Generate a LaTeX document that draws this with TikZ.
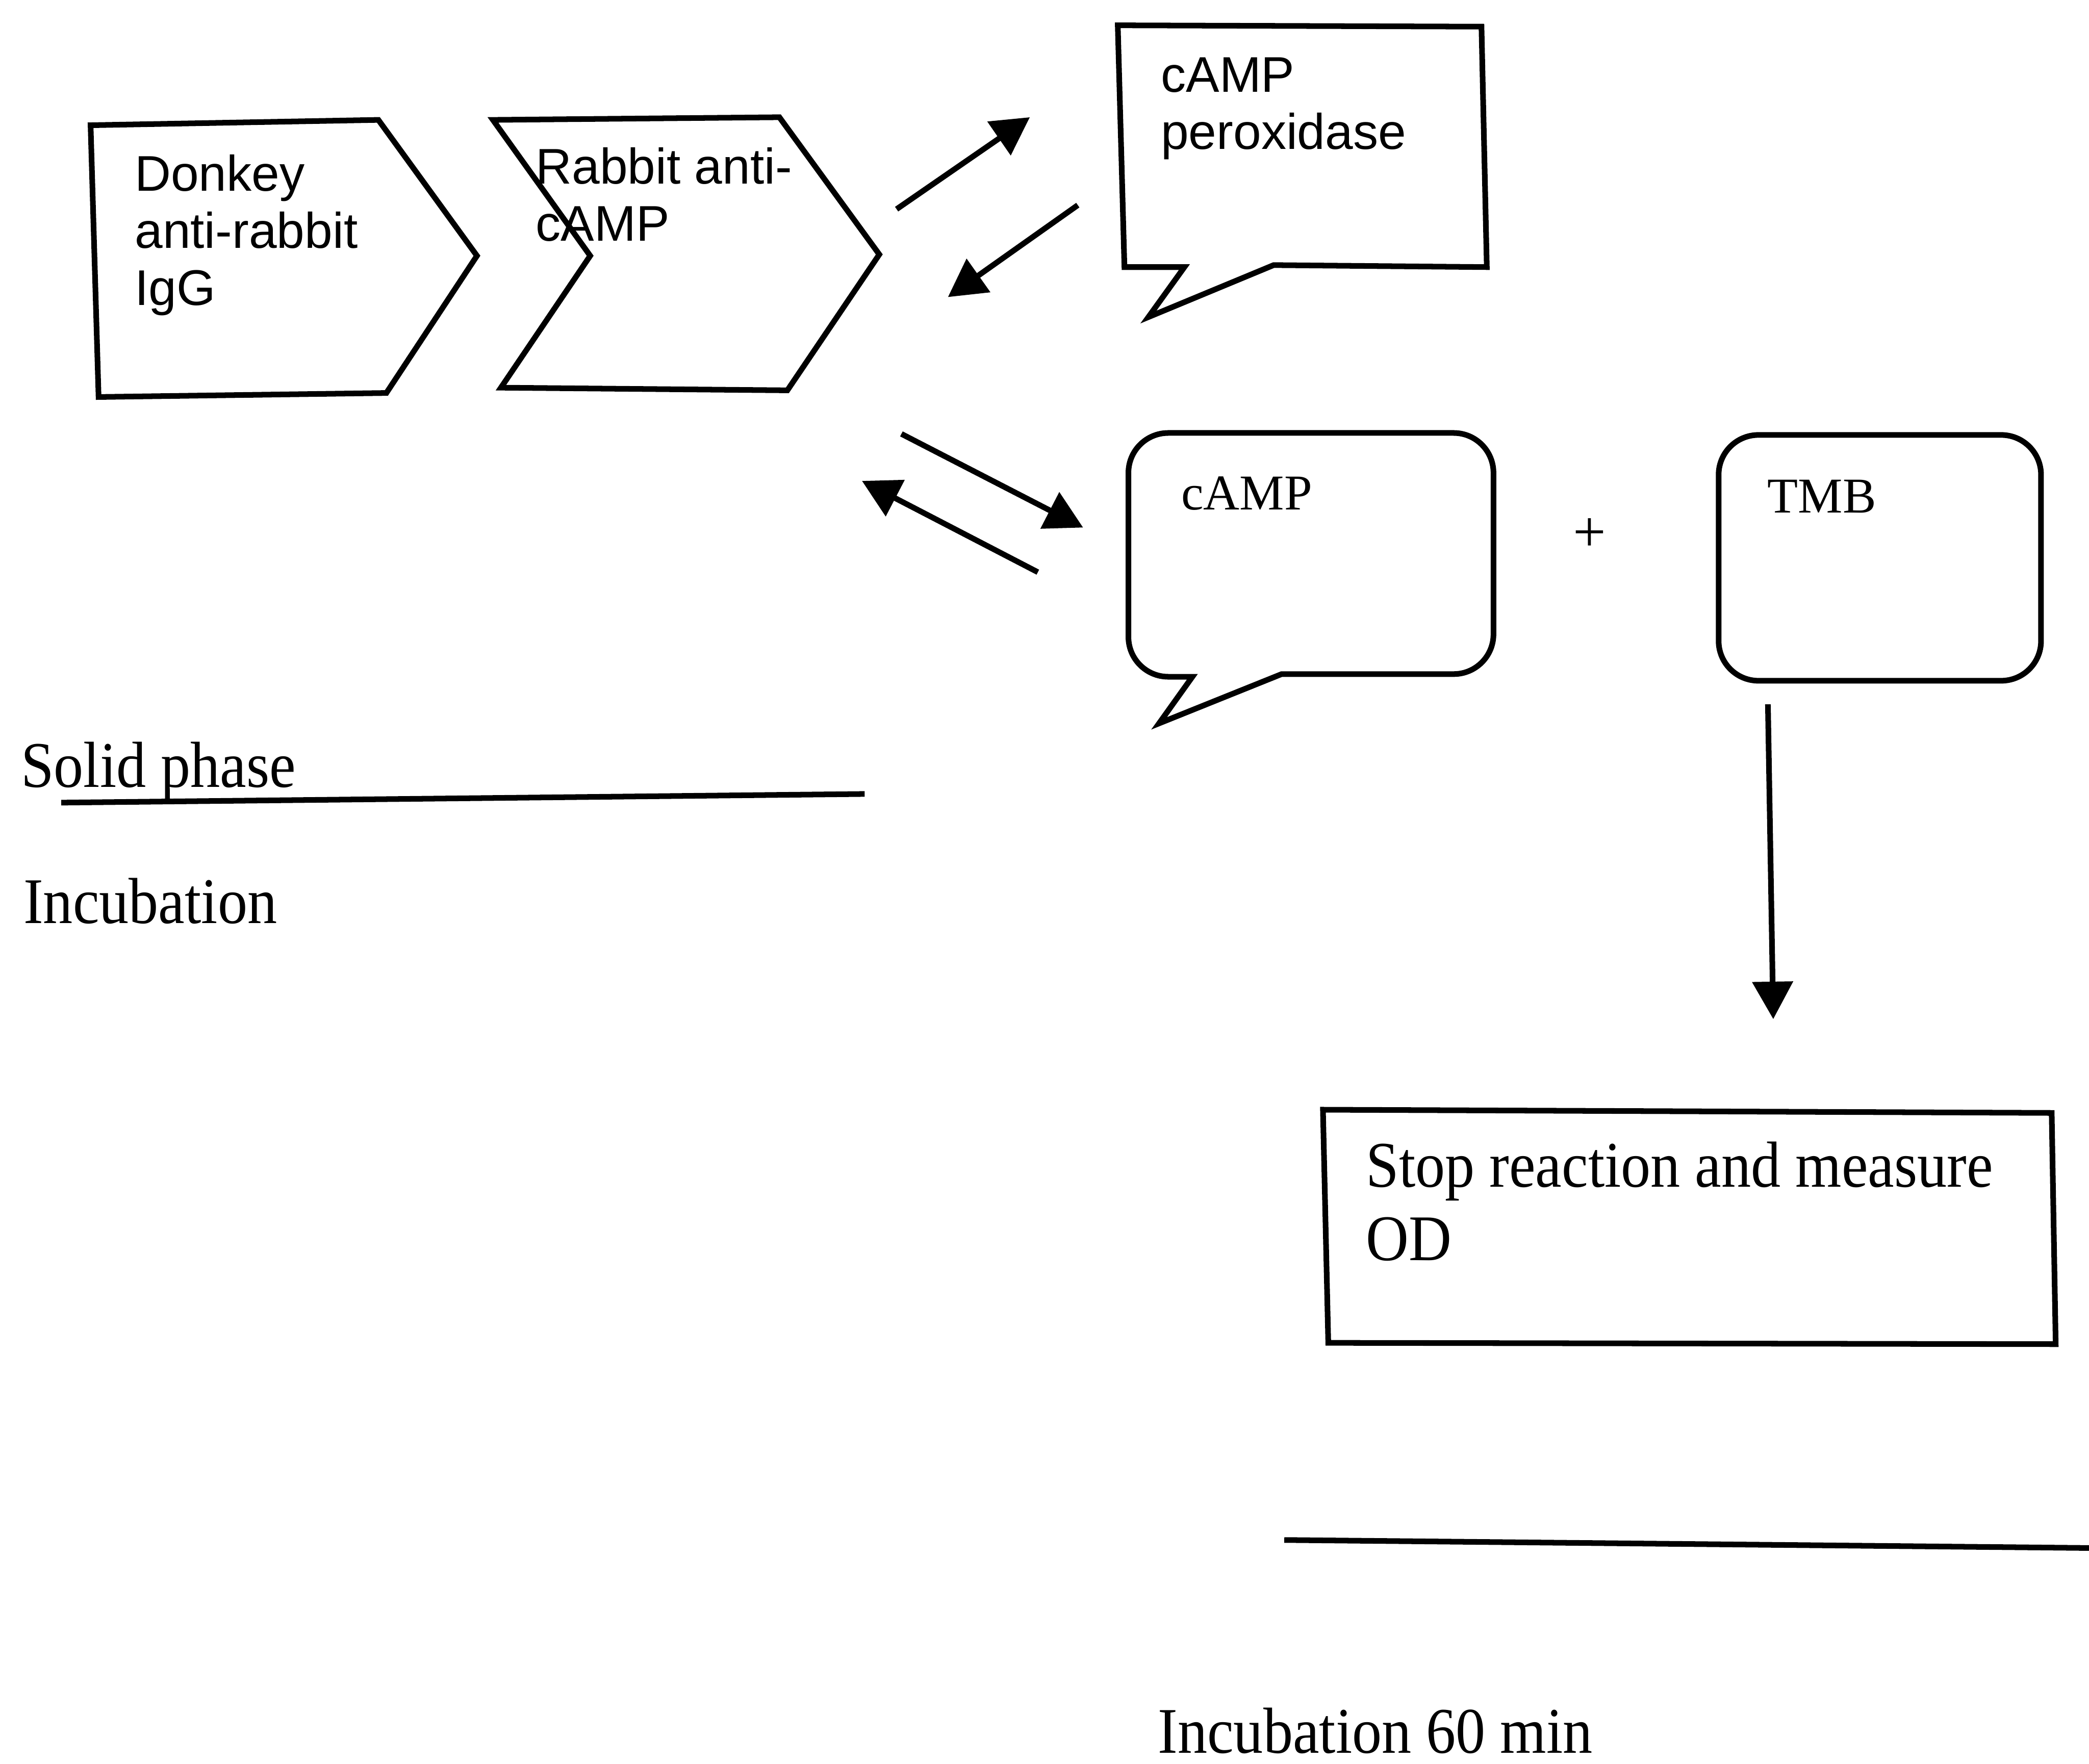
\documentclass[tikz,border=0pt]{standalone}
\usepackage{fontspec}
\setmainfont{Liberation Serif}
\newfontfamily\sansf{Liberation Sans}
\newfontfamily\serifc[FakeStretch=0.91]{Liberation Serif}
\usetikzlibrary{arrows.meta}
\begin{document}
\begin{tikzpicture}[x=0.01cm,y=-0.01cm,
  shapeline/.style={line width=1.2pt, line join=miter},
  arr/.style={line width=1.2pt, -{Triangle[length=8pt,width=8.5pt]}},
  rule/.style={line width=1.2pt},
  sanslbl/.style={font=\sansf\fontsize{10.7}{12.2}\selectfont, inner sep=0pt, anchor=base west, align=left},
  seriflbl/.style={font=\fontsize{10.7}{12.2}\selectfont, inner sep=0pt, anchor=base west},
  biglbl/.style={font=\serifc\fontsize{13.9}{15.6}\selectfont, inner sep=0pt, anchor=base west, align=left}]
\useasboundingbox (0,0) rectangle (1568,1324);

% chevrons
\draw[shapeline] (68,94) -- (284,90) -- (358,192) -- (290,295) -- (74,298) -- cycle;
\draw[shapeline] (370,90) -- (585,88) -- (660,191) -- (591,293) -- (376,291) -- (443,192) -- cycle;

% rectangular callout
\draw[shapeline] (839,19) -- (1112,20) -- (1116,200.5) -- (956,199) -- (862,238) -- (889,200.5) -- (844,200.5) -- cycle;

% rounded callout
\draw[shapeline] (962,506) [rounded corners=8.5pt] -- (1121,506) -- (1121,325) -- (847,325) -- (847,508) [sharp corners] -- (895,508) -- (870,543) -- cycle;

% TMB box
\draw[shapeline, rounded corners=8.5pt] (1290,326.5) rectangle (1532,511);

% stop box
\draw[shapeline] (993,833) -- (1540,835.4) -- (1543,1009) -- (997,1008) -- cycle;

% rules
\coordinate (r1s) at (46,602.5);
\coordinate (r1e) at (649,596);
\coordinate (r2s) at (964,1156);
\coordinate (r2e) at (1568,1162);
\draw[rule] (r1s) -- (r1e);
\draw[rule] (r2s) -- (r2e);

% arrows
\coordinate (a1s) at (673,157);
\coordinate (a1e) at (773,88);
\coordinate (a2s) at (809,154);
\coordinate (a2e) at (711.5,223);
\coordinate (a3s) at (676.6,325.7);
\coordinate (a3e) at (813,396);
\coordinate (a4s) at (779,429.5);
\coordinate (a4e) at (647,361);
\coordinate (a5s) at (1327,528.7);
\coordinate (a5e) at (1331,765);
\draw[arr] (a1s) -- (a1e);
\draw[arr] (a2s) -- (a2e);
\draw[arr] (a3s) -- (a3e);
\draw[arr] (a4s) -- (a4e);
\draw[arr] (a5s) -- (a5e);

% texts (multi-line nodes are placed at the baseline of their last line)
\node[sanslbl] (donkey) at (100.5,229) {Donkey\\anti-rabbit\\IgG};
\node[sanslbl] (rabbit) at (401.5,181) {Rabbit anti-\\cAMP};
\node[sanslbl] (perox) at (870.7,112) {cAMP\\peroxidase};
\node[seriflbl] (camp) at (886,382.5) {cAMP};
\node[seriflbl] (tmb) at (1326,385) {TMB};
\node[font=\fontsize{12.5}{14}\selectfont, inner sep=0pt] (plus) at (1193,401.5) {+};
\node[biglbl] (stop) at (1024.7,946) {Stop reaction and measure\\OD};
\node[biglbl] (solid) at (15,591) {Solid phase};
\node[biglbl] (incub) at (17,693) {Incubation};
\node[biglbl] (incub60) at (868.5,1316) {Incubation 60 min};
\end{tikzpicture}
\end{document}
